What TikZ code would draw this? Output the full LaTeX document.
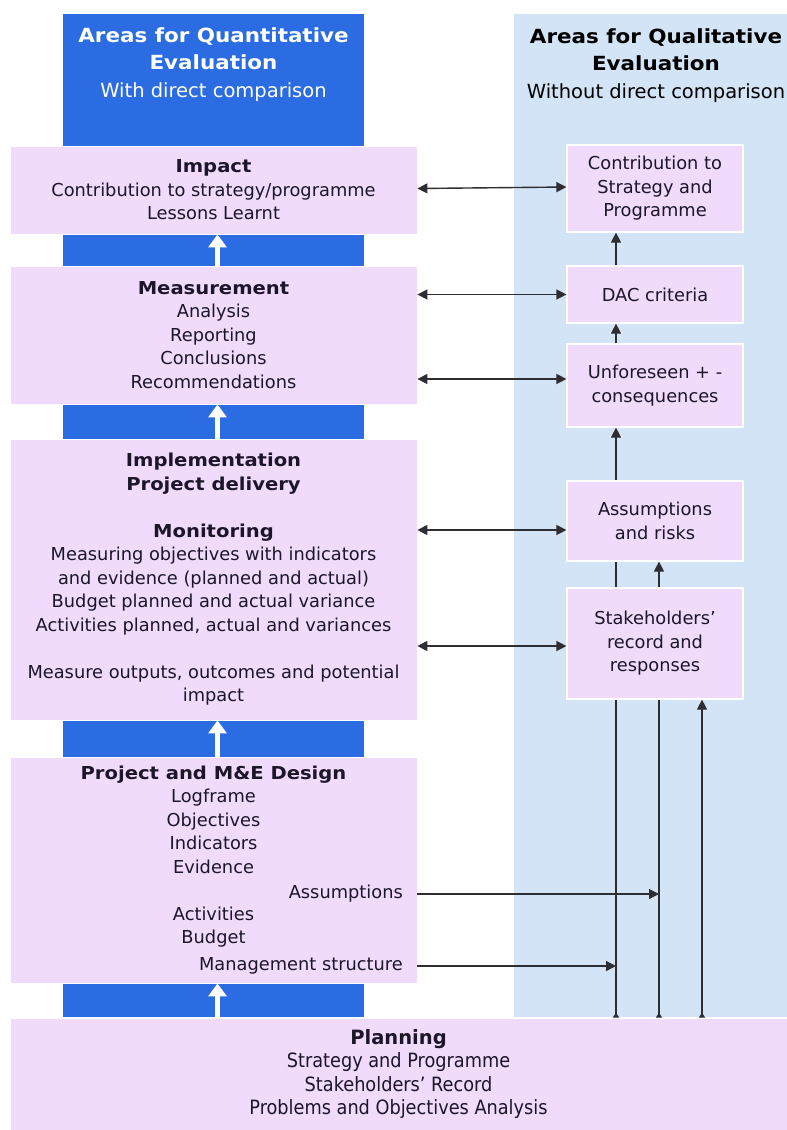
\documentclass[tikz,border=0pt]{standalone}
\usepackage{fontspec}
\setmainfont{DejaVu Sans}[BoldFeatures={FakeStretch=1.1}]
\newfontfamily\condfont{DejaVu Sans Condensed}[BoldFeatures={FakeStretch=1.1}]
\usetikzlibrary{arrows.meta}
\pgfdeclarelayer{bg}
\pgfdeclarelayer{mid}
\pgfsetlayers{bg,mid,main}

\definecolor{qblue}{RGB}{43,108,226}
\definecolor{lblue}{RGB}{211,228,247}
\definecolor{pinkbox}{RGB}{240,219,252}
\definecolor{ink}{RGB}{28,22,40}
\definecolor{linegray}{RGB}{45,45,50}

\tikzset{
  bodyfont/.style={font=\fontsize{17.8}{23.5}\selectfont},
  lbox/.style={draw=white, line width=0.8pt, fill=pinkbox, minimum width=407pt,
    align=center, inner sep=0pt, text=ink, bodyfont},
  rbox/.style={draw=white, line width=1.2pt, fill=pinkbox, minimum width=176pt,
    align=center, inner sep=0pt, text=ink, bodyfont},
  headfont/.style={font=\fontsize{19.5}{27.5}\selectfont},
  uparrow/.style={draw=white, line width=5pt, -{Triangle[width=18pt,length=13pt]}},
  twoway/.style={draw=linegray, line width=1.4pt,
    {Triangle[width=10pt,length=10pt]}-{Triangle[width=10pt,length=10pt]}},
  oneway/.style={draw=linegray, line width=1.2pt, -{Triangle[width=10pt,length=10pt]}},
  feed/.style={draw=linegray, line width=1.2pt,
    {Triangle[reversed,width=6pt,length=5pt]}-{Triangle[width=10pt,length=10pt]}},
}

\begin{document}
\begin{tikzpicture}[x=1pt,y=-1pt]
\useasboundingbox (0,0) rectangle (787,1130);

% page and column backgrounds
\begin{pgfonlayer}{bg}
  \fill[white] (0,0) rectangle (787,1130);
  \fill[qblue] (63,14) rectangle (364,1017);
  \fill[lblue] (514,14) rectangle (787,1017);
\end{pgfonlayer}

% column headings
\node[text=white, align=center, headfont] (qhead) at (213.5,64.5)
  {\textbf{Areas for Quantitative}\\\textbf{Evaluation}\\With direct comparison};
\node[text=black, align=center, headfont] (lhead) at (656,65.5)
  {\textbf{Areas for Qualitative}\\\textbf{Evaluation}\\Without direct comparison};

% quantitative stages
\node[lbox, minimum height=88pt] (impact) at (213.5,190)
  {\textbf{Impact}\\Contribution to strategy/programme\\Lessons Learnt};
\node[lbox, minimum height=138pt] (meas) at (213.5,335)
  {\textbf{Measurement}\\Analysis\\Reporting\\Conclusions\\Recommendations};
\node[lbox, minimum height=281pt] (impl) at (213.5,579.5)
  {\textbf{Implementation}\\\textbf{Project delivery}\\[23.5pt]\textbf{Monitoring}\\
   Measuring objectives with indicators\\and evidence (planned and actual)\\
   Budget planned and actual variance\\Activities planned, actual and variances\\[23.5pt]
   Measure outputs, outcomes and potential\\impact};
\node[lbox, minimum height=226pt] (design) at (213.5,870)
  {\textbf{Project and M\&E Design}\\Logframe\\Objectives\\Indicators\\Evidence\\\strut\\
   Activities\\Budget\\\strut};
\node[text=ink, bodyfont, anchor=east, inner sep=0pt] (assm) at (403,894) {Assumptions};
\node[text=ink, bodyfont, anchor=east, inner sep=0pt] (mgmt) at (403,966) {Management structure};
\node[lbox, minimum width=777pt, minimum height=112pt,
      font=\condfont\fontsize{19.7}{23.5}\selectfont] (plan) at (398.5,1074)
  {\textbf{Planning}\\Strategy and Programme\\Stakeholders’ Record\\Problems and Objectives Analysis};

% qualitative items
\node[rbox, minimum height=87pt] (contrib) at (655,188.5) {Contribution to\\Strategy and\\Programme};
\node[rbox, minimum height=57pt] (dac) at (655,294.5) {DAC criteria};
\node[rbox, minimum height=83pt] (unf) at (655,385.5) {Unforeseen + -\\consequences};
\node[rbox, minimum height=80pt] (risk) at (655,521) {Assumptions\\and risks};
\node[rbox, minimum height=111pt] (stake) at (655,643.5) {Stakeholders’\\record and\\responses};

% upward flow between quantitative stages
\coordinate (wx) at (217.5,0);
\draw[uparrow] (meas.north -| wx) -- (impact.south -| wx);
\draw[uparrow] (impl.north -| wx) -- (meas.south -| wx);
\draw[uparrow] (design.north -| wx) -- (impl.south -| wx);
\draw[uparrow] (plan.north -| wx) -- (design.south -| wx);

% links between the two columns
\draw[twoway] ([yshift=1.5pt]impact.east) -- ([yshift=1.5pt]contrib.west);
\draw[twoway] (meas.east |- dac.west) -- (dac.west);
\draw[twoway] ([yshift=6.5pt]unf.west -| meas.east) -- ([yshift=6.5pt]unf.west);
\draw[twoway] ([yshift=-9pt]risk.west -| impl.east) -- ([yshift=-9pt]risk.west);
\draw[twoway] ([yshift=-2.5pt]stake.west -| impl.east) -- ([yshift=-2.5pt]stake.west);

% vertical flow in the qualitative column
\coordinate (la) at (616,0);
\coordinate (lb) at (659,0);
\coordinate (lc) at (702,0);
\draw[oneway] (dac.north -| la) -- (contrib.south -| la);
\draw[oneway] (unf.north -| la) -- (dac.south -| la);
\begin{pgfonlayer}{mid}
  \draw[feed] (plan.north -| la) -- (unf.south -| la);
  \draw[feed] (plan.north -| lb) -- (risk.south -| lb);
\end{pgfonlayer}
\draw[feed] (plan.north -| lc) -- (stake.south -| lc);

% design outputs feeding the qualitative lines
\draw[oneway] (assm.east -| design.east) -- (assm.east -| lb);
\draw[oneway] (mgmt.east -| design.east) -- (mgmt.east -| la);
\end{tikzpicture}
\end{document}
